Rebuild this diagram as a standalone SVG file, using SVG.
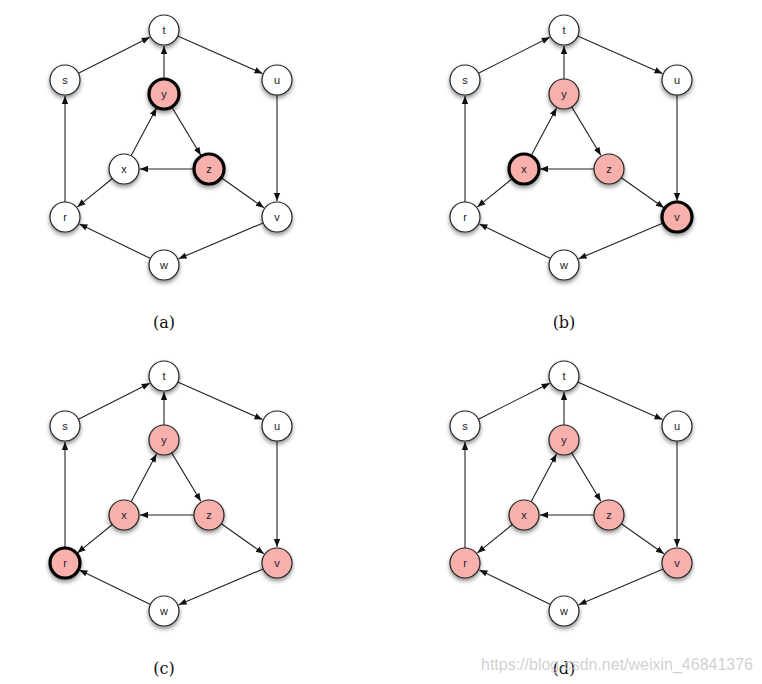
<svg xmlns="http://www.w3.org/2000/svg" xmlns:xlink="http://www.w3.org/1999/xlink" width="762" height="684" viewBox="0 0 762 684">
<style>
.n{fill:#fff;stroke:#222;stroke-width:1.2;filter:url(#sh)}
.h{fill:#f8b0ac}
.b{stroke:#000;stroke-width:3.2}
.t{font-family:"Liberation Sans",Arial,sans-serif;font-size:11px;fill:#1a1a2a;text-anchor:middle}
.e{stroke:#222;stroke-width:1.1;fill:none;marker-end:url(#ah)}
.cap{font-family:"DejaVu Serif","Liberation Serif",serif;font-size:16px;fill:#111;text-anchor:middle}
.wm{font-family:"Liberation Sans",Arial,sans-serif;font-size:16px;fill:#c8c8c8;fill-opacity:0.85}
</style>
<defs>
<filter id="sh" x="-40%" y="-40%" width="180%" height="180%">
<feDropShadow dx="0" dy="2.5" stdDeviation="2" flood-color="#000" flood-opacity="0.45"/>
</filter>
<marker id="ah" viewBox="0 0 10 10" refX="10" refY="5" markerWidth="8" markerHeight="8" markerUnits="userSpaceOnUse" orient="auto">
<path d="M0,1 L10,5 L0,9 Z" fill="#111"/>
</marker>
<g id="edges">
<line x1="78.4" y1="73.2" x2="149.7" y2="37.2"/>
<line x1="177.7" y1="36.1" x2="262.4" y2="73.5"/>
<line x1="164" y1="79" x2="164" y2="46"/>
<line x1="131.1" y1="155.8" x2="156.5" y2="108.1"/>
<line x1="171.7" y1="106.9" x2="200.8" y2="155.3"/>
<line x1="194" y1="169" x2="140" y2="169"/>
<line x1="112.4" y1="178.5" x2="77.4" y2="206.9"/>
<line x1="221.3" y1="177.7" x2="263.9" y2="207.8"/>
<line x1="277" y1="95" x2="277" y2="201"/>
<line x1="65" y1="202" x2="65" y2="96"/>
<line x1="263.2" y1="222.9" x2="178.7" y2="258.7"/>
<line x1="150.5" y1="258.5" x2="79.4" y2="224"/>
</g>
</defs>

<g id="connectors">
<use xlink:href="#edges" class="e"/>
<use xlink:href="#edges" class="e" transform="translate(400,0)"/>
<use xlink:href="#edges" class="e" transform="translate(0,346)"/>
<use xlink:href="#edges" class="e" transform="translate(400,346)"/>
</g>

<!-- panel a -->
<g id="panel-a">
<g id="a-t"><circle class="n" cx="164" cy="30" r="15"/><text class="t" x="164" y="34">t</text></g>
<g id="a-s"><circle class="n" cx="65" cy="80" r="15"/><text class="t" x="65" y="84">s</text></g>
<g id="a-u"><circle class="n" cx="277" cy="80" r="15"/><text class="t" x="277" y="84">u</text></g>
<g id="a-y"><circle class="n h b" cx="164" cy="94" r="15"/><text class="t" x="164" y="98">y</text></g>
<g id="a-x"><circle class="n" cx="124" cy="169" r="15"/><text class="t" x="124" y="173">x</text></g>
<g id="a-z"><circle class="n h b" cx="209" cy="169" r="15"/><text class="t" x="209" y="173">z</text></g>
<g id="a-r"><circle class="n" cx="65" cy="217" r="15"/><text class="t" x="65" y="221">r</text></g>
<g id="a-v"><circle class="n" cx="277" cy="217" r="15"/><text class="t" x="277" y="221">v</text></g>
<g id="a-w"><circle class="n" cx="164" cy="265" r="15"/><text class="t" x="164" y="269">w</text></g>
<text class="cap" x="164" y="328">(a)</text>
</g>

<!-- panel b -->
<g id="panel-b" transform="translate(400,0)">
<g id="b-t"><circle class="n" cx="164" cy="30" r="15"/><text class="t" x="164" y="34">t</text></g>
<g id="b-s"><circle class="n" cx="65" cy="80" r="15"/><text class="t" x="65" y="84">s</text></g>
<g id="b-u"><circle class="n" cx="277" cy="80" r="15"/><text class="t" x="277" y="84">u</text></g>
<g id="b-y"><circle class="n h" cx="164" cy="94" r="15"/><text class="t" x="164" y="98">y</text></g>
<g id="b-x"><circle class="n h b" cx="124" cy="169" r="15"/><text class="t" x="124" y="173">x</text></g>
<g id="b-z"><circle class="n h" cx="209" cy="169" r="15"/><text class="t" x="209" y="173">z</text></g>
<g id="b-r"><circle class="n" cx="65" cy="217" r="15"/><text class="t" x="65" y="221">r</text></g>
<g id="b-v"><circle class="n h b" cx="277" cy="217" r="15"/><text class="t" x="277" y="221">v</text></g>
<g id="b-w"><circle class="n" cx="164" cy="265" r="15"/><text class="t" x="164" y="269">w</text></g>
<text class="cap" x="164" y="328">(b)</text>
</g>

<!-- panel c -->
<g id="panel-c" transform="translate(0,346)">
<g id="c-t"><circle class="n" cx="164" cy="30" r="15"/><text class="t" x="164" y="34">t</text></g>
<g id="c-s"><circle class="n" cx="65" cy="80" r="15"/><text class="t" x="65" y="84">s</text></g>
<g id="c-u"><circle class="n" cx="277" cy="80" r="15"/><text class="t" x="277" y="84">u</text></g>
<g id="c-y"><circle class="n h" cx="164" cy="94" r="15"/><text class="t" x="164" y="98">y</text></g>
<g id="c-x"><circle class="n h" cx="124" cy="169" r="15"/><text class="t" x="124" y="173">x</text></g>
<g id="c-z"><circle class="n h" cx="209" cy="169" r="15"/><text class="t" x="209" y="173">z</text></g>
<g id="c-r"><circle class="n h b" cx="65" cy="217" r="15"/><text class="t" x="65" y="221">r</text></g>
<g id="c-v"><circle class="n h" cx="277" cy="217" r="15"/><text class="t" x="277" y="221">v</text></g>
<g id="c-w"><circle class="n" cx="164" cy="265" r="15"/><text class="t" x="164" y="269">w</text></g>
<text class="cap" x="164" y="328">(c)</text>
</g>

<!-- panel d -->
<g id="panel-d" transform="translate(400,346)">
<g id="d-t"><circle class="n" cx="164" cy="30" r="15"/><text class="t" x="164" y="34">t</text></g>
<g id="d-s"><circle class="n" cx="65" cy="80" r="15"/><text class="t" x="65" y="84">s</text></g>
<g id="d-u"><circle class="n" cx="277" cy="80" r="15"/><text class="t" x="277" y="84">u</text></g>
<g id="d-y"><circle class="n h" cx="164" cy="94" r="15"/><text class="t" x="164" y="98">y</text></g>
<g id="d-x"><circle class="n h" cx="124" cy="169" r="15"/><text class="t" x="124" y="173">x</text></g>
<g id="d-z"><circle class="n h" cx="209" cy="169" r="15"/><text class="t" x="209" y="173">z</text></g>
<g id="d-r"><circle class="n h" cx="65" cy="217" r="15"/><text class="t" x="65" y="221">r</text></g>
<g id="d-v"><circle class="n h" cx="277" cy="217" r="15"/><text class="t" x="277" y="221">v</text></g>
<g id="d-w"><circle class="n" cx="164" cy="265" r="15"/><text class="t" x="164" y="269">w</text></g>
<text class="cap" x="164" y="328">(d)</text>
</g>

<text class="wm" x="481" y="670" textLength="272" lengthAdjust="spacingAndGlyphs">https://blog.csdn.net/weixin_46841376</text>
</svg>
